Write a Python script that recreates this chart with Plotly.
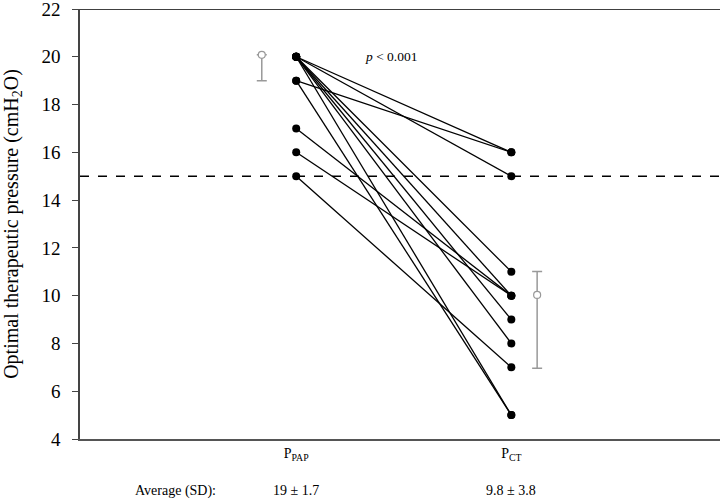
import plotly.graph_objects as go

# Paired data: (P_PAP, P_CT) per patient
pap_values = [20, 20, 19, 20, 20, 20, 20, 20, 19, 17, 16, 15]
ct_values = [16, 15, 16, 11, 10, 9, 8, 5, 5, 10, 10, 7]

categories = ["P<sub>PAP</sub>", "P<sub>CT</sub>"]
cat_x = [1, 2]

# Mean/error markers as drawn
err_x = [0.84, 2.12]
err_y = [20.08, 10.03]
err_plus = [0.0, 0.98]
err_minus = [1.08, 3.07]

avg_labels = ["19 ± 1.7", "9.8 ± 3.8"]
ref_line = 15

yticks = [4, 6, 8, 10, 12, 14, 16, 18, 20, 22]

FONT = "Liberation Serif"

fig = go.Figure()

for a, b in zip(pap_values, ct_values):
    fig.add_trace(go.Scatter(
        x=cat_x, y=[a, b], mode="lines+markers",
        line=dict(color="black", width=1.3),
        marker=dict(color="black", size=8),
        showlegend=False, hoverinfo="skip"))

fig.add_trace(go.Scatter(
    x=err_x, y=err_y, mode="markers",
    marker=dict(color="white", size=7, line=dict(color="#999999", width=1.2)),
    error_y=dict(type="data", symmetric=False, array=err_plus, arrayminus=err_minus,
                 color="#999999", thickness=1.5, width=5),
    showlegend=False, hoverinfo="skip"))

# Reference dashed line
fig.add_shape(type="line", xref="paper", yref="y", x0=0, x1=1, y0=ref_line, y1=ref_line,
              line=dict(color="black", width=1.5, dash="dash"))
# Top border
fig.add_shape(type="line", xref="paper", yref="y", x0=0, x1=1, y0=22, y1=22,
              line=dict(color="black", width=1.5))

fig.add_annotation(x=1.445, y=20, xref="x", yref="y", text="<i>p</i> < 0.001",
                   showarrow=False, font=dict(family=FONT, size=13.5, color="black"))

fig.add_annotation(x=0.44, y=-0.12, xref="x", yref="paper", yanchor="middle",
                   text="Average (SD):",
                   showarrow=False, font=dict(family=FONT, size=14, color="black"))
for xv, lab in zip(cat_x, avg_labels):
    fig.add_annotation(x=xv, y=-0.12, xref="x", yref="paper", yanchor="middle", text=lab,
                       showarrow=False, font=dict(family=FONT, size=14, color="black"))

fig.update_layout(
    width=728, height=499,
    margin=dict(l=80, r=8, t=9, b=60, autoexpand=False),
    plot_bgcolor="white", paper_bgcolor="white",
    font=dict(family=FONT, color="black"),
    xaxis=dict(range=[-0.005, 2.97], tickvals=cat_x, ticktext=categories, ticks="",
               showgrid=False, zeroline=False, showline=True, linecolor="#555555",
               linewidth=2, automargin=False,
               tickfont=dict(family=FONT, size=14, color="black")),
    yaxis=dict(range=[4, 22], tickvals=yticks, ticks="outside", ticklen=6,
               tickcolor="#444444", showgrid=False, zeroline=False, showline=True,
               linecolor="#444444", linewidth=1.5, automargin=False,
               ticklabeloverflow="allow", ticklabelstandoff=8,
               tickfont=dict(family=FONT, size=19, color="black"),
               title=dict(text="Optimal therapeutic pressure (cmH<sub>2</sub>O)",
                          font=dict(family=FONT, size=20, color="black"), standoff=24)),
)

fig.write_html("out.html", config={"displayModeBar": False},
               post_script="document.body.style.margin='0';document.body.style.padding='0';")
